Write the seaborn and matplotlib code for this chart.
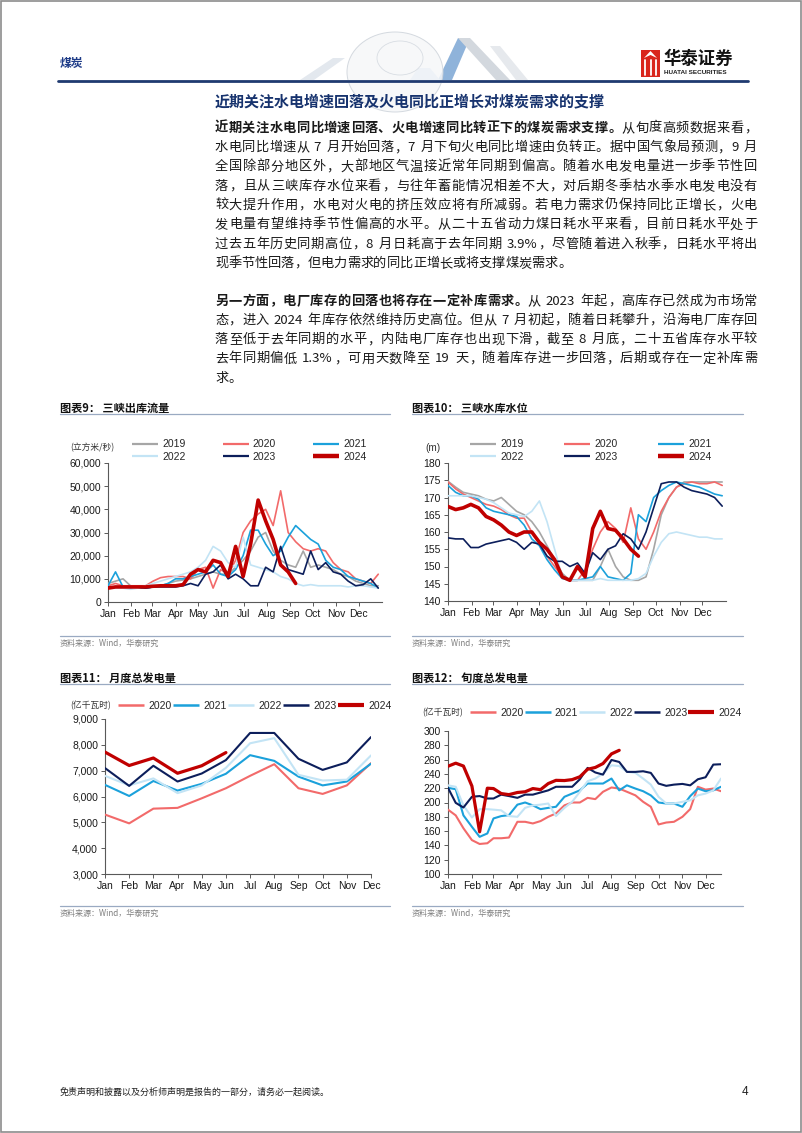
import re
import matplotlib
matplotlib.use('Agg')
import matplotlib.pyplot as plt
import seaborn as sns
from matplotlib.font_manager import FontProperties
from matplotlib.patches import Rectangle, Polygon, Ellipse
from matplotlib.lines import Line2D
from matplotlib.ticker import FuncFormatter

# ---------------- data ----------------
MONTHS = ['Jan', 'Feb', 'Mar', 'Apr', 'May', 'Jun', 'Jul', 'Aug', 'Sep', 'Oct', 'Nov', 'Dec']
MONTH_START = [0, 31, 59, 90, 120, 151, 181, 212, 243, 273, 304, 334]
DAYS = list(range(0, 361, 10))          # 10-day sampling of daily series
DAYS_2024 = list(range(0, 251, 10))

# chart 9: Three Gorges outflow (m3/s)
flow_2019 = [8000, 9000, 10000, 7000, 6000, 6000, 6500, 7000, 8000, 9000, 9500, 10000, 11000, 12000, 13000,
             12000, 12000, 15000, 18000, 22000, 28000, 30000, 22000, 18000, 16000, 15000, 22000, 15000, 16000,
             15000, 14000, 12000, 11000, 9000, 8000, 7000, 7000]
flow_2020 = [7000, 8000, 7000, 7000, 7000, 7000, 9000, 10500, 11000, 11000, 11000, 10000, 14000, 15000, 6000,
             14000, 12000, 18000, 30000, 35000, 38000, 40000, 33000, 48000, 30000, 26000, 23000, 22000, 23000,
             22000, 17000, 14000, 13000, 10000, 9000, 8000, 12000]
flow_2021 = [7000, 13000, 6500, 6000, 6000, 6000, 6500, 7000, 8000, 10000, 10000, 11000, 12000, 13000, 16000,
             12000, 11000, 14000, 20000, 31000, 31000, 25000, 20000, 22000, 28000, 33000, 30000, 27000, 25000,
             18000, 15000, 14000, 11000, 10000, 9000, 8000, 6000]
flow_2022 = [6000, 6000, 6000, 5500, 6000, 7000, 8000, 9000, 10000, 11000, 12000, 13000, 15000, 18000, 24000,
             22000, 17000, 15000, 28000, 16000, 15000, 14000, 13000, 11000, 10000, 8000, 7000, 7500, 7000,
             7000, 7000, 7000, 6500, 7000, 7000, 6500, 6000]
flow_2023 = [6500, 6500, 6500, 6500, 6500, 6000, 6500, 6500, 6500, 6500, 7000, 8000, 7000, 12000, 13000,
             16000, 10000, 12000, 10000, 7000, 7000, 15000, 13000, 24000, 14000, 13000, 12000, 22000, 14000,
             17000, 13000, 12000, 9000, 7000, 7500, 10000, 6000]
flow_2024 = [6000, 6500, 6500, 6500, 6500, 6500, 6800, 7000, 7000, 7000, 7500, 12000, 14000, 13000, 18000,
             17000, 11000, 24000, 11000, 25000, 44000, 35000, 27000, 16000, 13000, 8000]

# chart 10: Three Gorges water level (m)
lvl_2019 = [174.7, 173, 171.5, 171, 170.5, 169.5, 169, 170, 168, 166, 165, 163, 160, 156, 152, 148, 146, 146,
            146, 146, 150, 155, 150, 147, 146, 146, 147, 155, 165, 170, 173, 174.5, 174.5, 174.5, 174.5, 174.5, 174.5]
lvl_2020 = [174.5, 172.5, 171, 170, 169, 168, 167.5, 166.5, 165, 164, 164, 160, 157, 153, 150, 147, 146, 146,
            149, 155, 160, 163, 161, 157, 167, 158, 155, 160, 166, 170, 173, 174, 174.5, 174, 174, 174.5, 173.5]
lvl_2021 = [173.5, 171.5, 170.5, 170.5, 169.5, 167, 166, 165.5, 165, 164.5, 162, 158, 156, 152, 149, 146.5, 146,
            146, 146.5, 147, 150, 147, 146.5, 146, 148, 165, 163, 170, 172, 173.5, 174.5, 174, 173.5, 173, 172, 171, 170.5]
lvl_2022 = [170.5, 170.5, 170.5, 170.5, 170, 169.5, 168.5, 167, 165.5, 165, 164.5, 166, 169, 163, 155, 147, 146,
            146, 146, 146, 146.5, 146, 146, 146, 146, 146.5, 148, 153, 157, 159.5, 160, 159.5, 159, 158.5, 158.5, 158, 158]
lvl_2023 = [158.3, 158, 158, 155.5, 155.5, 156.5, 157, 157.5, 158, 157, 155, 157, 156.5, 153, 151.5, 151.5, 150,
            151, 148, 154, 152, 155, 156, 159.5, 158, 155, 160, 167, 174, 174.5, 174.5, 173, 172, 171.5, 171, 170, 167.5]
lvl_2024 = [167.4, 166.5, 167, 168, 167, 164.5, 163.5, 162, 160, 159, 160, 160, 157, 155, 152, 147, 146, 150,
            147, 161, 166, 161, 160.5, 158, 155, 153]

# chart 11: monthly generation (100 GWh)
gen_2020 = [5300, 4960, 5530, 5560, 5930, 6320, 6800, 7250, 6320, 6100, 6430, 7290]
gen_2021 = [6450, 6020, 6600, 6230, 6490, 6880, 7600, 7380, 6770, 6430, 6580, 7270]
gen_2022 = [6800, 6430, 6700, 6130, 6430, 7110, 8060, 8260, 6840, 6620, 6650, 7590]
gen_2023 = [7100, 6410, 7190, 6580, 6890, 7410, 8460, 8460, 7460, 7030, 7320, 8300]
gen_2024 = [7720, 7200, 7490, 6900, 7190, 7700]

# chart 12: dekadal generation (100 GWh), 3 dekads per month
DEKAD_OFFSET = [0, 10, 20]
dek_2020 = [190, 182, 164, 147.4, 142, 143, 150, 150, 151, 173, 173, 170.7, 174, 180, 184.7, 196, 200, 200,
            206.5, 204.7, 215, 221, 219.5, 215, 210, 201, 194, 169.3, 172, 173, 180, 190.7, 222, 218, 219.5, 215.8]
dek_2021 = [220.5, 218.6, 182, 166, 152, 156.7, 177.7, 181, 182.3, 197, 200, 196, 190.7, 192.5, 194, 208, 212.5,
            217, 226.5, 226.5, 226.5, 233.5, 217, 224, 219.5, 215.8, 210, 200, 198.6, 198.6, 194, 208.8, 219.5,
            215.8, 217, 222]
dek_2022 = [224, 222, 196, 179, 190.7, 190.7, 190, 189, 181, 180, 192.5, 196, 197, 198.6, 181, 192.5, 201, 215,
            229.8, 233.5, 240.5, 252, 251, 243, 241.4, 233.5, 225, 208, 198.6, 198.6, 201, 203, 210, 212.5, 217, 233.5]
dek_2023 = [220.5, 199.5, 193, 208, 209, 205.6, 205.6, 211, 209, 206.5, 211, 211, 214, 217, 222, 222, 222, 232.5,
            248.4, 242, 239, 259.5, 256.7, 242.8, 242.8, 243.7, 241.4, 226.5, 223.3, 225, 226, 224, 232.5, 235.3,
            253, 253.5]
dek_2024 = [250.7, 255, 251, 223, 159, 220, 219.5, 212.5, 211, 214, 215, 219.5, 218, 226.5, 231, 230.7, 232, 236,
            246.5, 249, 254.5, 268, 273]

COLORS = {'2019': '#A6A6A6', '2020': '#F26A6A', '2021': '#1BA1DB', '2022': '#C3E4F5',
          '2023': '#0C1E5B', '2024': '#C00000'}

# ---------------- figure ----------------
sns.set_theme(style='white')
plt.rcParams['font.family'] = ['Liberation Sans', 'Noto Sans CJK SC', 'DejaVu Sans']
CJK = ['Noto Sans CJK SC', 'DejaVu Sans']

W, H = 802, 1133
fig = plt.figure(figsize=(W / 100, H / 100), dpi=100)
fig.patch.set_facecolor('white')


def fx(x):
    return x / W


def fy(y):
    return 1 - y / H


def add_ax(l, t, r, b):
    return fig.add_axes([l / W, 1 - b / H, (r - l) / W, (b - t) / H])


def hline(x0, x1, y, color, lw):
    fig.add_artist(Line2D([fx(x0), fx(x1)], [fy(y), fy(y)], color=color, lw=lw, transform=fig.transFigure))


def ftext(x, y, s, **kw):
    kw.setdefault('va', 'center')
    kw.setdefault('ha', 'left')
    return fig.text(fx(x), fy(y), s, **kw)


# header decoration (faint globe + chevrons)
for pts, col in [([(300, 80), (314, 80), (345, 58), (333, 58)], '#e3e8ee'),
                 ([(438, 80), (452, 80), (470, 38), (458, 38)], '#8fb3da'),
                 ([(458, 38), (470, 38), (510, 80), (496, 80)], '#d3d8de'),
                 ([(490, 46), (500, 46), (528, 80), (516, 80)], '#e6e9ed'),
                 ([(410, 80), (440, 80), (430, 68), (418, 68)], '#c4dcf0')]:
    fig.add_artist(Polygon([(fx(a), fy(b)) for a, b in pts], closed=True, facecolor=col, edgecolor='none',
                           transform=fig.transFigure))
fig.add_artist(Ellipse((fx(395), fy(72)), 96 / W, 80 / H, transform=fig.transFigure, facecolor='#f6f7f9',
                       edgecolor='#cdd3da', lw=0.7, alpha=0.85))
fig.add_artist(Ellipse((fx(400), fy(58)), 46 / W, 34 / H, transform=fig.transFigure, facecolor='none',
                       edgecolor='#d8dde3', lw=0.6))
fig.add_artist(Rectangle((fx(250), fy(83)), 320 / W, 3 / H, facecolor='white', edgecolor='none',
                         transform=fig.transFigure))

# page border
fig.add_artist(Rectangle((0.0015, 0.001), 0.997, 0.998, fill=False, edgecolor='#8c8c8c', lw=1.2,
                         transform=fig.transFigure))

ftext(60, 63, '煤炭', family=CJK, fontsize=8.5, fontweight='bold', color='#1F3C88')
hline(58, 748, 80.5, '#1F3A70', 2.0)
# logo
fig.add_artist(Rectangle((fx(641), fy(77)), 19 / W, 27 / H, facecolor='#D9261C', edgecolor='none',
                         transform=fig.transFigure))
for xx in [645, 650.5, 656]:
    fig.add_artist(Line2D([fx(xx), fx(xx)], [fy(60), fy(75)], color='white', lw=1.3, transform=fig.transFigure))
fig.add_artist(Polygon([(fx(644), fy(58)), (fx(650.5), fy(51)), (fx(657), fy(58)), (fx(650.5), fy(55))],
                       closed=True, facecolor='white', edgecolor='none', transform=fig.transFigure))
ftext(663, 59, '华泰证券', family=CJK, fontsize=12.5, fontweight='bold', color='#111111')
ftext(664, 72.5, 'HUATAI SECURITIES', fontsize=4.6, fontweight='bold', color='#222222')

# ---------------- body text ----------------
ftext(215, 101, '近期关注水电增速回落及火电同比正增长对煤炭需求的支撑', family=CJK, fontsize=10.8,
      fontweight='bold', color='#17336E')

BODY = 9.5
EM = BODY * 100 / 72
renderer = fig.canvas.get_renderer()
PUNCT = set('，。、：；')
ASCII_RE = re.compile(r'[A-Za-z0-9.%]')


def text_line(x0, yc, segs, width=None, color='#1a1a1a'):
    items = []
    for txt, wt in segs:
        fp = FontProperties(family=CJK, size=BODY, weight=wt)
        for u in re.findall(r'[A-Za-z0-9.%]+|\s|.', txt):
            if u == ' ':
                w = EM * 0.28
            elif ASCII_RE.match(u):
                w = renderer.get_text_width_height_descent(u, fp, ismath=False)[0] + 1
            else:
                w = EM
            items.append((u, fp, w))
    total = sum(i[2] for i in items)
    gap = (width - total) / (len(items) - 1) if width else 0
    x = x0
    yb = yc + 0.36 * EM
    for u, fp, w in items:
        if u != ' ':
            if u in PUNCT or ASCII_RE.match(u):
                fig.text(fx(x), fy(yb), u, fontproperties=fp, ha='left', va='baseline', color=color)
            else:
                fig.text(fx(x + w / 2), fy(yb), u, fontproperties=fp, ha='center', va='baseline', color=color)
        x += w + gap


TX0, TX1 = 215, 757
para1 = [
    [('近期关注水电同比增速回落、火电增速同比转正下的煤炭需求支撑。', 'bold'), ('从旬度高频数据来看，', 'normal')],
    [('水电同比增速从 7 月开始回落，7 月下旬火电同比增速由负转正。据中国气象局预测，9 月', 'normal')],
    [('全国除部分地区外，大部地区气温接近常年同期到偏高。随着水电发电量进一步季节性回', 'normal')],
    [('落，且从三峡库存水位来看，与往年蓄能情况相差不大，对后期冬季枯水季水电发电没有', 'normal')],
    [('较大提升作用，水电对火电的挤压效应将有所减弱。若电力需求仍保持同比正增长，火电', 'normal')],
    [('发电量有望维持季节性偏高的水平。从二十五省动力煤日耗水平来看，目前日耗水平处于', 'normal')],
    [('过去五年历史同期高位，8 月日耗高于去年同期 3.9%，尽管随着进入秋季，日耗水平将出', 'normal')],
    [('现季节性回落，但电力需求的同比正增长或将支撑煤炭需求。', 'normal')],
]
para2 = [
    [('另一方面，电厂库存的回落也将存在一定补库需求。', 'bold'), ('从 2023 年起，高库存已然成为市场常', 'normal')],
    [('态，进入 2024 年库存依然维持历史高位。但从 7 月初起，随着日耗攀升，沿海电厂库存回', 'normal')],
    [('落至低于去年同期的水平，内陆电厂库存也出现下滑，截至 8 月底，二十五省库存水平较', 'normal')],
    [('去年同期偏低 1.3%，可用天数降至 19 天，随着库存进一步回落，后期或存在一定补库需', 'normal')],
    [('求。', 'normal')],
]
for i, segs in enumerate(para1):
    text_line(TX0, 127 + i * 19.3, segs, None if i == len(para1) - 1 else TX1 - TX0)
for i, segs in enumerate(para2):
    text_line(TX0, 300 + i * 19.2, segs, None if i == len(para2) - 1 else TX1 - TX0)


# ---------------- charts ----------------
def style(ax):
    for s in ['top', 'right']:
        ax.spines[s].set_visible(False)
    for s in ['left', 'bottom']:
        ax.spines[s].set_color('#595959')
        ax.spines[s].set_linewidth(0.8)
    ax.tick_params(axis='both', which='major', bottom=True, left=True, length=3, width=0.7, color='#595959',
                   labelsize=7.5, labelcolor='#1a1a1a', pad=2, direction='out')
    ax.set_xlabel('')
    ax.set_ylabel('')
    ax.grid(False)
    ax.set_facecolor('none')


def legend(ax, years, widths, x_px, y_px, ncol, colsp, order=None):
    handles = [Line2D([0], [0], color=COLORS[y], lw=w, solid_capstyle='butt') for y, w in zip(years, widths)]
    labels = list(years)
    if order is not None:
        handles = [handles[i] for i in order]
        labels = [labels[i] for i in order]
    ax.legend(handles, labels, ncol=ncol, loc='center left', bbox_to_anchor=(fx(x_px), fy(y_px)),
              bbox_transform=fig.transFigure, frameon=False, fontsize=7.5, handlelength=2.5,
              handletextpad=0.4, columnspacing=colsp, borderpad=0, borderaxespad=0, labelspacing=0.25)


def chart_frame(x0, x1, title, title_y, sep_y, src_sep_y, src_y):
    ftext(x0, title_y, title, family=CJK, fontsize=8, fontweight='bold', color='#111111')
    hline(x0, x1, sep_y, '#9AAAC2', 0.9)
    hline(x0, x1, src_sep_y, '#9AAAC2', 0.9)
    ftext(x0, src_y, '资料来源：Wind，华泰研究', family=CJK, fontsize=5.8, color='#7f7f7f')


comma = FuncFormatter(lambda v, p: f'{int(v):,}')
YEARS6 = ['2019', '2020', '2021', '2022', '2023', '2024']
YEARS5 = ['2020', '2021', '2022', '2023', '2024']

# chart 9
chart_frame(60, 390, '图表9： 三峡出库流量', 408, 414, 636, 643)
ax9 = add_ax(108, 463, 382, 602)
for yr, vals in zip(YEARS6, [flow_2019, flow_2020, flow_2021, flow_2022, flow_2023, flow_2024]):
    xs = DAYS_2024 if yr == '2024' else DAYS
    sns.lineplot(x=xs, y=vals, ax=ax9, color=COLORS[yr], linewidth=2.6 if yr == '2024' else 1.2,
                 zorder=5 if yr == '2024' else 3)
style(ax9)
ax9.set_xlim(0, 365)
ax9.set_ylim(0, 60000)
ax9.set_yticks(range(0, 60001, 10000))
ax9.yaxis.set_major_formatter(comma)
ax9.set_xticks(MONTH_START)
ax9.set_xticklabels(MONTHS)
legend(ax9, YEARS6, [1.6, 1.6, 1.6, 1.6, 1.6, 3.2], 132, 450.5, 3, 3.55, order=[0, 3, 1, 4, 2, 5])
ftext(70, 448, '(立方米/秒)', family=CJK, fontsize=6.3, color='#333333')

# chart 10
chart_frame(412, 743, '图表10： 三峡水库水位', 408, 414, 636, 643)
ax10 = add_ax(448, 463, 726, 601)
for yr, vals in zip(YEARS6, [lvl_2019, lvl_2020, lvl_2021, lvl_2022, lvl_2023, lvl_2024]):
    xs = DAYS_2024 if yr == '2024' else DAYS
    sns.lineplot(x=xs, y=vals, ax=ax10, color=COLORS[yr], linewidth=2.6 if yr == '2024' else 1.2,
                 zorder=5 if yr == '2024' else 3)
style(ax10)
ax10.set_xlim(0, 365)
ax10.set_ylim(140, 180)
ax10.set_yticks(range(140, 181, 5))
ax10.set_xticks(MONTH_START)
ax10.set_xticklabels(MONTHS)
legend(ax10, YEARS6, [1.6, 1.6, 1.6, 1.6, 1.6, 3.2], 470, 450.5, 3, 3.9, order=[0, 3, 1, 4, 2, 5])
ftext(425, 448, '(m)', fontsize=7.2, color='#333333')

# chart 11
chart_frame(60, 390, '图表11： 月度总发电量', 678, 684, 906, 913)
ax11 = add_ax(105, 719, 371, 874)
for yr, vals in zip(YEARS5, [gen_2020, gen_2021, gen_2022, gen_2023, gen_2024]):
    sns.lineplot(x=list(range(len(vals))), y=vals, ax=ax11, color=COLORS[yr],
                 linewidth=2.3 if yr == '2024' else 1.5, zorder=5 if yr == '2024' else 3)
style(ax11)
ax11.set_xlim(0, 11)
ax11.set_ylim(3000, 9000)
ax11.set_yticks(range(3000, 9001, 1000))
ax11.yaxis.set_major_formatter(comma)
ax11.set_xticks(range(12))
ax11.set_xticklabels(MONTHS)
legend(ax11, YEARS5, [1.8, 1.8, 1.8, 1.8, 3.0], 118, 706, 5, 0.15)
ftext(70, 706, '(亿千瓦时)', family=CJK, fontsize=6.3, color='#333333')

# chart 12
chart_frame(412, 743, '图表12： 旬度总发电量', 678, 684, 906, 913)
ax12 = add_ax(448, 731, 721, 874)
dek_days = [m + d for m in MONTH_START for d in DEKAD_OFFSET]
for yr, vals in zip(YEARS5, [dek_2020, dek_2021, dek_2022, dek_2023, dek_2024]):
    sns.lineplot(x=dek_days[:len(vals)], y=vals, ax=ax12, color=COLORS[yr],
                 linewidth=2.3 if yr == '2024' else 1.5, zorder=5 if yr == '2024' else 3)
style(ax12)
ax12.set_xlim(0, dek_days[-1])
ax12.set_ylim(100, 300)
ax12.set_yticks(range(100, 301, 20))
ax12.set_xticks(MONTH_START)
ax12.set_xticklabels(MONTHS)
legend(ax12, YEARS5, [1.8, 1.8, 1.8, 1.8, 3.0], 470, 713, 5, 0.1)
ftext(422, 713, '(亿千瓦时)', family=CJK, fontsize=6.3, color='#333333')

# footer
ftext(60, 1092, '免责声明和披露以及分析师声明是报告的一部分，请务必一起阅读。', family=CJK, fontsize=6.5,
      color='#222222')
ftext(748, 1092, '4', fontsize=8.5, color='#222222', ha='right')

fig.savefig('out.png', dpi=100)
